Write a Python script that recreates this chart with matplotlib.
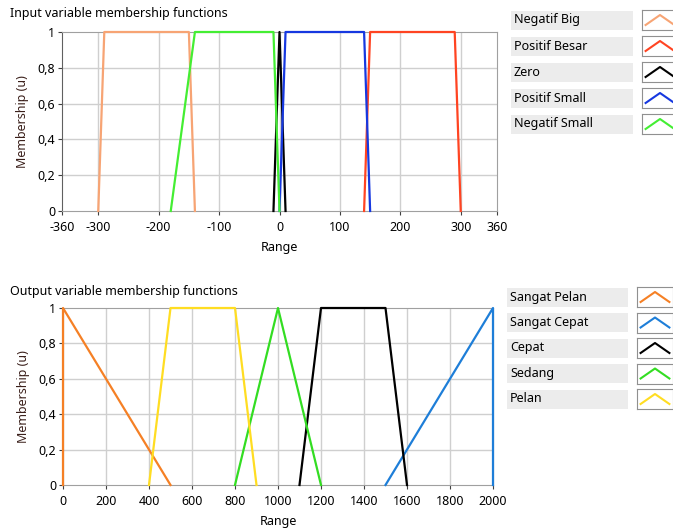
import matplotlib.pyplot as plt
from matplotlib.patches import Rectangle

plt.rcParams['font.family'] = ['Noto Sans', 'DejaVu Sans']

# input membership functions (x points, y points)
in_names = ['Negatif Big', 'Positif Besar', 'Zero', 'Positif Small', 'Negatif Small']
in_colors = ['#F7A474', '#FF4422', '#000000', '#1638E0', '#44EE33']
in_x = [[-300, -290, -150, -140],
        [140, 150, 290, 300],
        [-10, 0, 10],
        [0, 10, 140, 150],
        [-180, -140, -10, 0]]
in_y = [[0, 1, 1, 0], [0, 1, 1, 0], [0, 1, 0], [0, 1, 1, 0], [0, 1, 1, 0]]
in_xticks = [-360, -300, -200, -100, 0, 100, 200, 300, 360]

# output membership functions
out_names = ['Sangat Pelan', 'Sangat Cepat', 'Cepat', 'Sedang', 'Pelan']
out_colors = ['#F58025', '#1E7ED8', '#000000', '#33DD22', '#FFDD22']
out_x = [[0, 0, 500],
         [1500, 2000, 2000],
         [1100, 1200, 1500, 1600],
         [800, 1000, 1200],
         [400, 500, 800, 900]]
out_y = [[0, 1, 0], [0, 1, 0], [0, 1, 1, 0], [0, 1, 0], [0, 1, 1, 0]]
out_xticks = list(range(0, 2001, 200))

yticks = [0, 0.2, 0.4, 0.6, 0.8, 1]
ytick_labels = ['0', '0,2', '0,4', '0,6', '0,8', '1']

fig = plt.figure(figsize=(6.73, 5.3), dpi=100)
fs = 9


def setup_axes(ax, xlim, xticks, gridx):
    ax.set_xlim(*xlim)
    ax.set_ylim(0, 1)
    ax.set_xticks(xticks)
    ax.set_xticklabels([str(t) for t in xticks], fontsize=fs)
    ax.set_yticks(yticks)
    ax.set_yticklabels(ytick_labels, fontsize=fs)
    for t in gridx:
        ax.axvline(t, color='#cfcfcf', lw=1, zorder=0)
    for t in yticks[1:-1]:
        ax.axhline(t, color='#cfcfcf', lw=1, zorder=0)
    for s in ['top', 'right']:
        ax.spines[s].set_color('#a0a0a0')
    ax.spines['left'].set_color('#606060')
    ax.spines['bottom'].set_color('#a0a0a0')
    ax.tick_params(length=3, color='#404040')
    ax.tick_params(axis='x', pad=4)
    ax.tick_params(axis='y', pad=2)
    ax.set_xlabel('Range', fontsize=fs, labelpad=5)
    ax.set_ylabel('Membership (u)', fontsize=fs, color='#3a1f1a', labelpad=6)


def legend(names, colors, x0, y0, w, dy):
    for i, (n, c) in enumerate(zip(names, colors)):
        yc = y0 - i * dy
        fig.patches.append(Rectangle((x0, yc - 9.5 / 530), w, 19 / 530,
                                     transform=fig.transFigure,
                                     facecolor='#ececec', edgecolor='none'))
        fig.text(x0 + 3 / 673, yc, n, fontsize=fs, va='center', ha='left')
        iax = fig.add_axes([x0 + w + 9 / 673, yc - 10 / 530, 36 / 673, 20 / 530])
        iax.plot([0.1, 0.5, 0.9], [0.25, 0.75, 0.25], color=c, lw=1.5)
        iax.set_xlim(0, 1)
        iax.set_ylim(0, 1)
        iax.set_xticks([])
        iax.set_yticks([])
        for s in iax.spines.values():
            s.set_color('#909090')


ax1 = fig.add_axes([62 / 673, 1 - 211 / 530, 435 / 673, 179 / 530])
for xs, ys, c in zip(in_x, in_y, in_colors):
    ax1.plot(xs, ys, color=c, lw=1.6, zorder=3, clip_on=False)
setup_axes(ax1, (-360, 360), in_xticks, in_xticks[1:-1])
fig.text(10 / 673, 1 - 14 / 530, 'Input variable membership functions', fontsize=fs, va='center')
legend(in_names, in_colors, 511 / 673, 1 - 20 / 530, 122 / 673, 26 / 530)

ax2 = fig.add_axes([63 / 673, 1 - 485 / 530, 430 / 673, 177 / 530])
for xs, ys, c in zip(out_x, out_y, out_colors):
    ax2.plot(xs, ys, color=c, lw=1.6, zorder=3, clip_on=False)
setup_axes(ax2, (0, 2000), out_xticks, out_xticks[1:-1])
fig.text(10 / 673, 1 - 291 / 530, 'Output variable membership functions', fontsize=fs, va='center')
legend(out_names, out_colors, 507 / 673, 1 - 297 / 530, 121 / 673, 25.5 / 530)

fig.savefig('out.png', dpi=100)
